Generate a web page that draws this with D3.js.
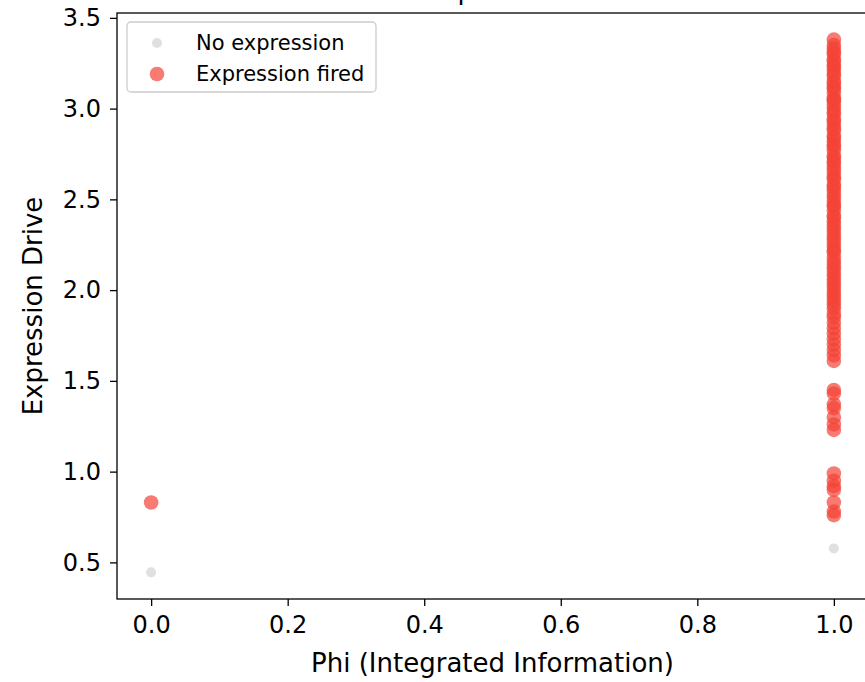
<!DOCTYPE html>
<html>
<head>
<meta charset="utf-8">
<script src="https://cdn.jsdelivr.net/npm/d3@7"></script>
<style>
	body { margin: 0; background: #fff; }
	svg { font-family: 'DejaVu Sans', sans-serif; }
</style>
</head>
<body>
<svg width="865" height="682"></svg>
<script>
// points with no expression
const quietPhi = [0, 1];
const quietDrive = [0.445, 0.577];

// points where expression fired
const firedPhi = [0,
	1, 1, 1, 1, 1, 1, 1, 1, 1, 1, 1, 1, 1, 1, 1, 1, 1, 1, 1, 1,
	1, 1, 1, 1, 1, 1, 1, 1, 1, 1, 1, 1, 1, 1, 1, 1, 1, 1, 1, 1,
	1, 1, 1, 1, 1, 1, 1, 1, 1, 1, 1, 1, 1, 1, 1, 1, 1, 1, 1, 1,
	1, 1, 1, 1, 1, 1, 1, 1, 1, 1, 1, 1, 1, 1, 1, 1, 1, 1, 1, 1,
	1, 1, 1, 1, 1, 1, 1, 1, 1, 1,
	1, 1, 1, 1, 1, 1, 1, 1, 1, 1, 1, 1, 1, 1];
const firedDrive = [0.83,
	3.38, 3.35, 3.33, 3.31, 3.30, 3.27, 3.26, 3.24, 3.23, 3.21, 3.19, 3.18, 3.15, 3.14, 3.12, 3.11, 3.09, 3.06, 3.05, 3.04,
	3.02, 3.00, 2.98, 2.97, 2.94, 2.93, 2.91, 2.89, 2.88, 2.85, 2.84, 2.82, 2.80, 2.79, 2.77, 2.74, 2.73, 2.71, 2.70, 2.68,
	2.66, 2.64, 2.62, 2.61, 2.58, 2.57, 2.55, 2.53, 2.51, 2.49, 2.47, 2.46, 2.44, 2.41, 2.40, 2.38, 2.36, 2.34, 2.32, 2.30,
	2.28, 2.26, 2.24, 2.22, 2.21, 2.18, 2.16, 2.14, 2.12, 2.10, 2.08, 2.06, 2.04, 2.02, 2.00, 1.98, 1.96, 1.94, 1.92, 1.90,
	1.87, 1.85, 1.82, 1.79, 1.76, 1.73, 1.70, 1.67, 1.64, 1.61,
	1.45, 1.43, 1.37, 1.35, 1.30, 1.26, 1.23, 0.99, 0.95, 0.92, 0.90, 0.83, 0.78, 0.76];

const xTicks = [0, 0.2, 0.4, 0.6, 0.8, 1.0];
const yTicks = [0.5, 1.0, 1.5, 2.0, 2.5, 3.0, 3.5];
const legendLabels = ['No expression', 'Expression fired'];

(function() {
	const svg = d3.select('svg');

	const left = 117, right = 868, top = 13, bottom = 599;

	// matplotlib style 5% margins
	const allDrive = quietDrive.concat(firedDrive);
	const yMin = d3.min(allDrive), yMax = d3.max(allDrive);
	const yPad = (yMax - yMin) * 0.05;

	const x = d3.scaleLinear().domain([-0.05, 1.05]).range([left, right]);
	const y = d3.scaleLinear().domain([yMin - yPad, yMax + yPad]).range([bottom, top]);

	const quietColor = '#d3d3d3';
	const firedColor = '#f44336';

	// title sits above the visible area, only a descender shows
	svg.append('text')
		.attr('x', (left + right) / 2)
		.attr('y', -1)
		.attr('text-anchor', 'middle')
		.attr('font-size', 26)
		.text('Phi vs Expression Drive');

	const plot = svg.append('g');

	plot.selectAll('circle.quiet')
		.data(quietPhi.map((p, i) => [p, quietDrive[i]]))
		.enter().append('circle')
			.attr('class', 'quiet')
			.attr('cx', d => x(d[0]))
			.attr('cy', d => y(d[1]))
			.attr('r', 5)
			.attr('fill', quietColor)
			.attr('fill-opacity', 0.7);

	plot.selectAll('circle.fired')
		.data(firedPhi.map((p, i) => [p, firedDrive[i]]))
		.enter().append('circle')
			.attr('class', 'fired')
			.attr('cx', d => x(d[0]))
			.attr('cy', d => y(d[1]))
			.attr('r', 7.3)
			.attr('fill', firedColor)
			.attr('fill-opacity', 0.7);

	// axes
	const xAxis = svg.append('g')
		.attr('transform', `translate(0, ${bottom})`)
		.call(d3.axisBottom(x).tickValues(xTicks).tickFormat(d3.format('.1f')).tickSize(7).tickPadding(10));
	const yAxis = svg.append('g')
		.attr('transform', `translate(${left}, 0)`)
		.call(d3.axisLeft(y).tickValues(yTicks).tickFormat(d3.format('.1f')).tickSize(7).tickPadding(9));

	[xAxis, yAxis].forEach(a => {
		a.select('.domain').remove();
		a.selectAll('line').attr('stroke', '#000').attr('stroke-width', 1.3);
		a.selectAll('text').attr('font-size', 24).attr('fill', '#000').attr('font-family', 'DejaVu Sans');
	});

	// frame
	svg.append('rect')
		.attr('x', left)
		.attr('y', top)
		.attr('width', right - left)
		.attr('height', bottom - top)
		.attr('fill', 'none')
		.attr('stroke', '#000')
		.attr('stroke-width', 1.3);

	svg.append('text')
		.attr('x', (left + right) / 2)
		.attr('y', 672)
		.attr('text-anchor', 'middle')
		.attr('font-size', 26)
		.text('Phi (Integrated Information)');

	svg.append('text')
		.attr('transform', `translate(42, ${(top + bottom) / 2}) rotate(-90)`)
		.attr('text-anchor', 'middle')
		.attr('font-size', 26)
		.text('Expression Drive');

	// legend
	const legend = svg.append('g').attr('transform', 'translate(127, 22)');
	legend.append('rect')
		.attr('width', 249)
		.attr('height', 70)
		.attr('rx', 4)
		.attr('fill', '#fff')
		.attr('fill-opacity', 0.8)
		.attr('stroke', '#ccc')
		.attr('stroke-width', 1.3);

	const legendItems = legend.selectAll('g.item')
		.data(legendLabels)
		.enter().append('g')
			.attr('class', 'item')
			.attr('transform', (d, i) => `translate(0, ${21 + i * 31})`);

	legendItems.append('circle')
		.attr('cx', 30)
		.attr('r', (d, i) => i ? 7.3 : 5)
		.attr('fill', (d, i) => i ? firedColor : quietColor)
		.attr('fill-opacity', 0.7);

	legendItems.append('text')
		.attr('x', 69)
		.attr('dy', '0.35em')
		.attr('font-size', 21)
		.text(d => d);
})()
</script>
</body>
</html>
